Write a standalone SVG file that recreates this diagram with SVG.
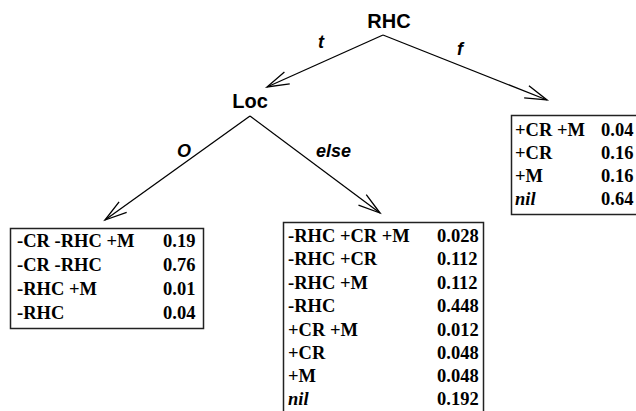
<svg xmlns="http://www.w3.org/2000/svg" width="636" height="411" viewBox="0 0 636 411">
  <style>
    .node { font-family: "Liberation Sans", Arial, sans-serif; font-weight: bold; font-size: 20px; fill: #000; text-anchor: middle; }
    .edge-label { font-family: "Liberation Sans", Arial, sans-serif; font-weight: bold; font-style: italic; font-size: 18px; fill: #000; }
    .edge { stroke: #000; stroke-width: 1.3; fill: none; marker-end: url(#vee); }
    .box { fill: #fff; stroke: #222; stroke-width: 1.5; }
    .row { font-family: "Liberation Serif", "Times New Roman", serif; font-weight: bold; font-size: 18.5px; fill: #000; }
    .it { font-style: italic; }
  </style>
  <defs>
    <marker id="vee" markerUnits="userSpaceOnUse" markerWidth="30" markerHeight="20" refX="0" refY="0" viewBox="-24 -10 26 20" orient="auto" overflow="visible">
      <path d="M -22,-6.5 L 0,0 L -22,6.5" fill="none" stroke="#000" stroke-width="1.3"/>
    </marker>
  </defs>
  <rect width="636" height="411" fill="#fff"/>

  <!-- connectors -->
  <g id="connectors">
    <line class="edge" x1="383" y1="35" x2="267" y2="87"/>
    <line class="edge" x1="383" y1="35" x2="547" y2="100"/>
    <line class="edge" x1="250" y1="116" x2="105" y2="220"/>
    <line class="edge" x1="250" y1="116" x2="380" y2="213"/>
    <text class="edge-label" x="318" y="48">t</text>
    <text class="edge-label" x="457" y="55">f</text>
    <text class="edge-label" x="177" y="157">O</text>
    <text class="edge-label" x="316" y="157">else</text>
  </g>

  <!-- decision nodes -->
  <g id="node-rhc">
    <text class="node" x="389" y="28">RHC</text>
  </g>
  <g id="node-loc">
    <text class="node" x="250" y="108">Loc</text>
  </g>

  <!-- leaf: Loc = O -->
  <g id="leaf-o">
    <rect class="box" x="10.5" y="228.5" width="193" height="100"/>
    <text class="row" x="17" y="247">-CR -RHC +M</text><text class="row" x="163" y="247">0.19</text>
    <text class="row" x="17" y="271">-CR -RHC</text><text class="row" x="163" y="271">0.76</text>
    <text class="row" x="17" y="295">-RHC +M</text><text class="row" x="163" y="295">0.01</text>
    <text class="row" x="17" y="319">-RHC</text><text class="row" x="163" y="319">0.04</text>
  </g>

  <!-- leaf: Loc = else -->
  <g id="leaf-else">
    <rect class="box" x="283.5" y="222.5" width="200" height="200"/>
    <text class="row" x="288" y="242">-RHC +CR +M</text><text class="row" x="437" y="242">0.028</text>
    <text class="row" x="288" y="265">-RHC +CR</text><text class="row" x="437" y="265">0.112</text>
    <text class="row" x="288" y="289">-RHC +M</text><text class="row" x="437" y="289">0.112</text>
    <text class="row" x="288" y="312">-RHC</text><text class="row" x="437" y="312">0.448</text>
    <text class="row" x="288" y="336">+CR +M</text><text class="row" x="437" y="336">0.012</text>
    <text class="row" x="288" y="359">+CR</text><text class="row" x="437" y="359">0.048</text>
    <text class="row" x="288" y="382">+M</text><text class="row" x="437" y="382">0.048</text>
    <text class="row it" x="288" y="405">nil</text><text class="row" x="437" y="405">0.192</text>
  </g>

  <!-- leaf: RHC = f -->
  <g id="leaf-f">
    <rect class="box" x="511.5" y="115.5" width="140" height="99"/>
    <text class="row" x="515" y="136">+CR +M</text><text class="row" x="601" y="136">0.04</text>
    <text class="row" x="515" y="159">+CR</text><text class="row" x="601" y="159">0.16</text>
    <text class="row" x="515" y="182">+M</text><text class="row" x="601" y="182">0.16</text>
    <text class="row it" x="515" y="205">nil</text><text class="row" x="601" y="205">0.64</text>
  </g>
</svg>
